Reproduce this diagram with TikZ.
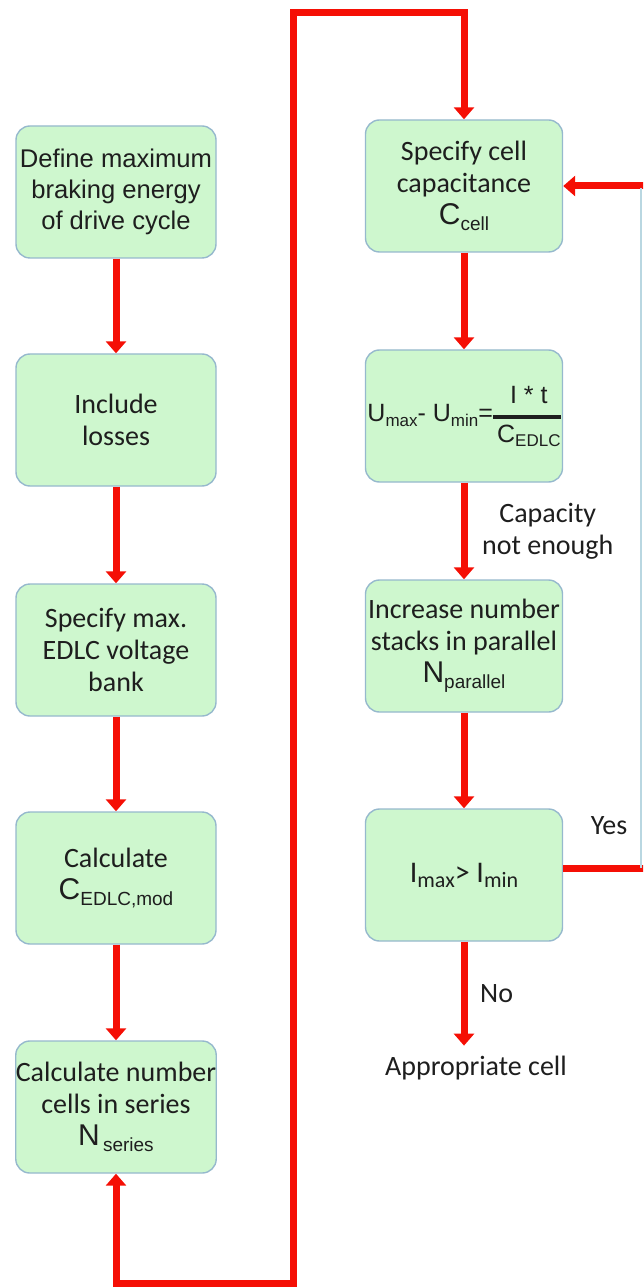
\documentclass[tikz,border=0pt]{standalone}
\usepackage{fontspec}
\setmainfont{Carlito}
\newfontfamily\arialfont{Liberation Sans}
\usetikzlibrary{arrows.meta}

\definecolor{boxgreen}{RGB}{206,247,206}
\definecolor{boxedge}{RGB}{150,185,205}
\definecolor{flowred}{RGB}{245,15,5}
\definecolor{txtgray}{RGB}{30,30,30}
\definecolor{edgeblue}{RGB}{185,215,225}

% big symbol with lowered index
\newcommand\bigsym[2]{{\arialfont\fontsize{15}{16}\selectfont #1\raisebox{-0.35ex}{\fontsize{9.5}{10}\selectfont #2}}}
\newcommand\lowtxt[1]{\raisebox{-0.35ex}{\fontsize{8.5}{9}\selectfont #1}}
\newcommand\fracbox[2]{$\vcenter{\hbox{\setlength{\arrayrulewidth}{1.6pt}\renewcommand{\arraystretch}{1.2}\begin{tabular}{@{\,}c@{}}#1\\[1pt]\hline #2\end{tabular}}}$}

\tikzset{redtip/.tip={Triangle[width=10pt,length=6pt]}}

\begin{document}
\begin{tikzpicture}[x=0.5pt,y=-0.5pt,
    stepbox/.style={draw=boxedge, line width=0.7pt, fill=boxgreen, rounded corners=7pt,
      minimum width=100pt, minimum height=66pt, inner sep=0pt, align=center,
      text=txtgray, font=\fontsize{14}{16}\selectfont},
    rbox/.style={minimum width=98.5pt},
    flow/.style={draw=flowred, line width=3.5pt, -redtip},
    lbl/.style={text=txtgray, align=center, font=\fontsize{14}{16}\selectfont}]
    \path[use as bounding box, clip] (0,0) rectangle (643,1288);

    % left column
    \node[stepbox, font=\arialfont\fontsize{12.8}{15.5}\selectfont] (define) at (116,192) {Define maximum\\braking energy\\of drive cycle};
    \node[stepbox] (losses) at (116,420) {Include\\losses};
    \node[stepbox] (voltage) at (116,650) {Specify max.\\EDLC voltage\\bank};
    \node[stepbox] (cedlc) at (116,878) {Calculate\\\bigsym{C}{EDLC,mod}};
    \node[stepbox] (nseries) at (116,1107) {Calculate number\\cells in series\\\bigsym{N}{\,series}};

    % right column
    \node[stepbox, rbox] (ccell) at (464,186) {Specify cell\\capacitance\\\bigsym{C}{cell}};
    \node[stepbox, rbox, font=\arialfont\fontsize{12.5}{14}\selectfont] (umax) at (464,416)
        {U\lowtxt{max}- U\lowtxt{min}=\fracbox{I * t}{C\lowtxt{EDLC}}};
    \node[stepbox, rbox] (npar) at (464,646) {Increase number\\stacks in parallel\\\bigsym{N}{parallel}};
    \node[stepbox, rbox, font=\fontsize{15}{16}\selectfont] (imax) at (464,875) {I\lowtxt{\fontsize{11}{12}\selectfont max}> I\lowtxt{\fontsize{11}{12}\selectfont min}};
    \node[lbl, inner sep=5pt] (result) at (476,1068) {Appropriate cell};

    \draw[flow] (define) -- (losses);
    \draw[flow] (losses) -- (voltage);
    \draw[flow] (voltage) -- (cedlc);
    \draw[flow] (cedlc) -- (nseries);

    \draw[flow] (ccell) -- (umax);
    \draw[flow] (umax) -- (npar) node[lbl, midway, right=4pt] {Capacity\\not enough};
    \draw[flow] (npar) -- (imax);
    \draw[flow] (imax.south) -- (imax.south |- result.north) node[lbl, midway, right=3pt] {No};

    % loops
    \draw[flow, redtip-redtip] (nseries) -- ++(0,176) -| (293,13) -| (ccell);
    \draw[flow] ([yshift=3.5pt]imax.east) -- ++(95,0) |- (ccell.east);
    \node[lbl] (yes) at (609,826) {Yes};
    \draw[edgeblue, line width=0.6pt] (641,188) -- (641,868);
\end{tikzpicture}
\end{document}
